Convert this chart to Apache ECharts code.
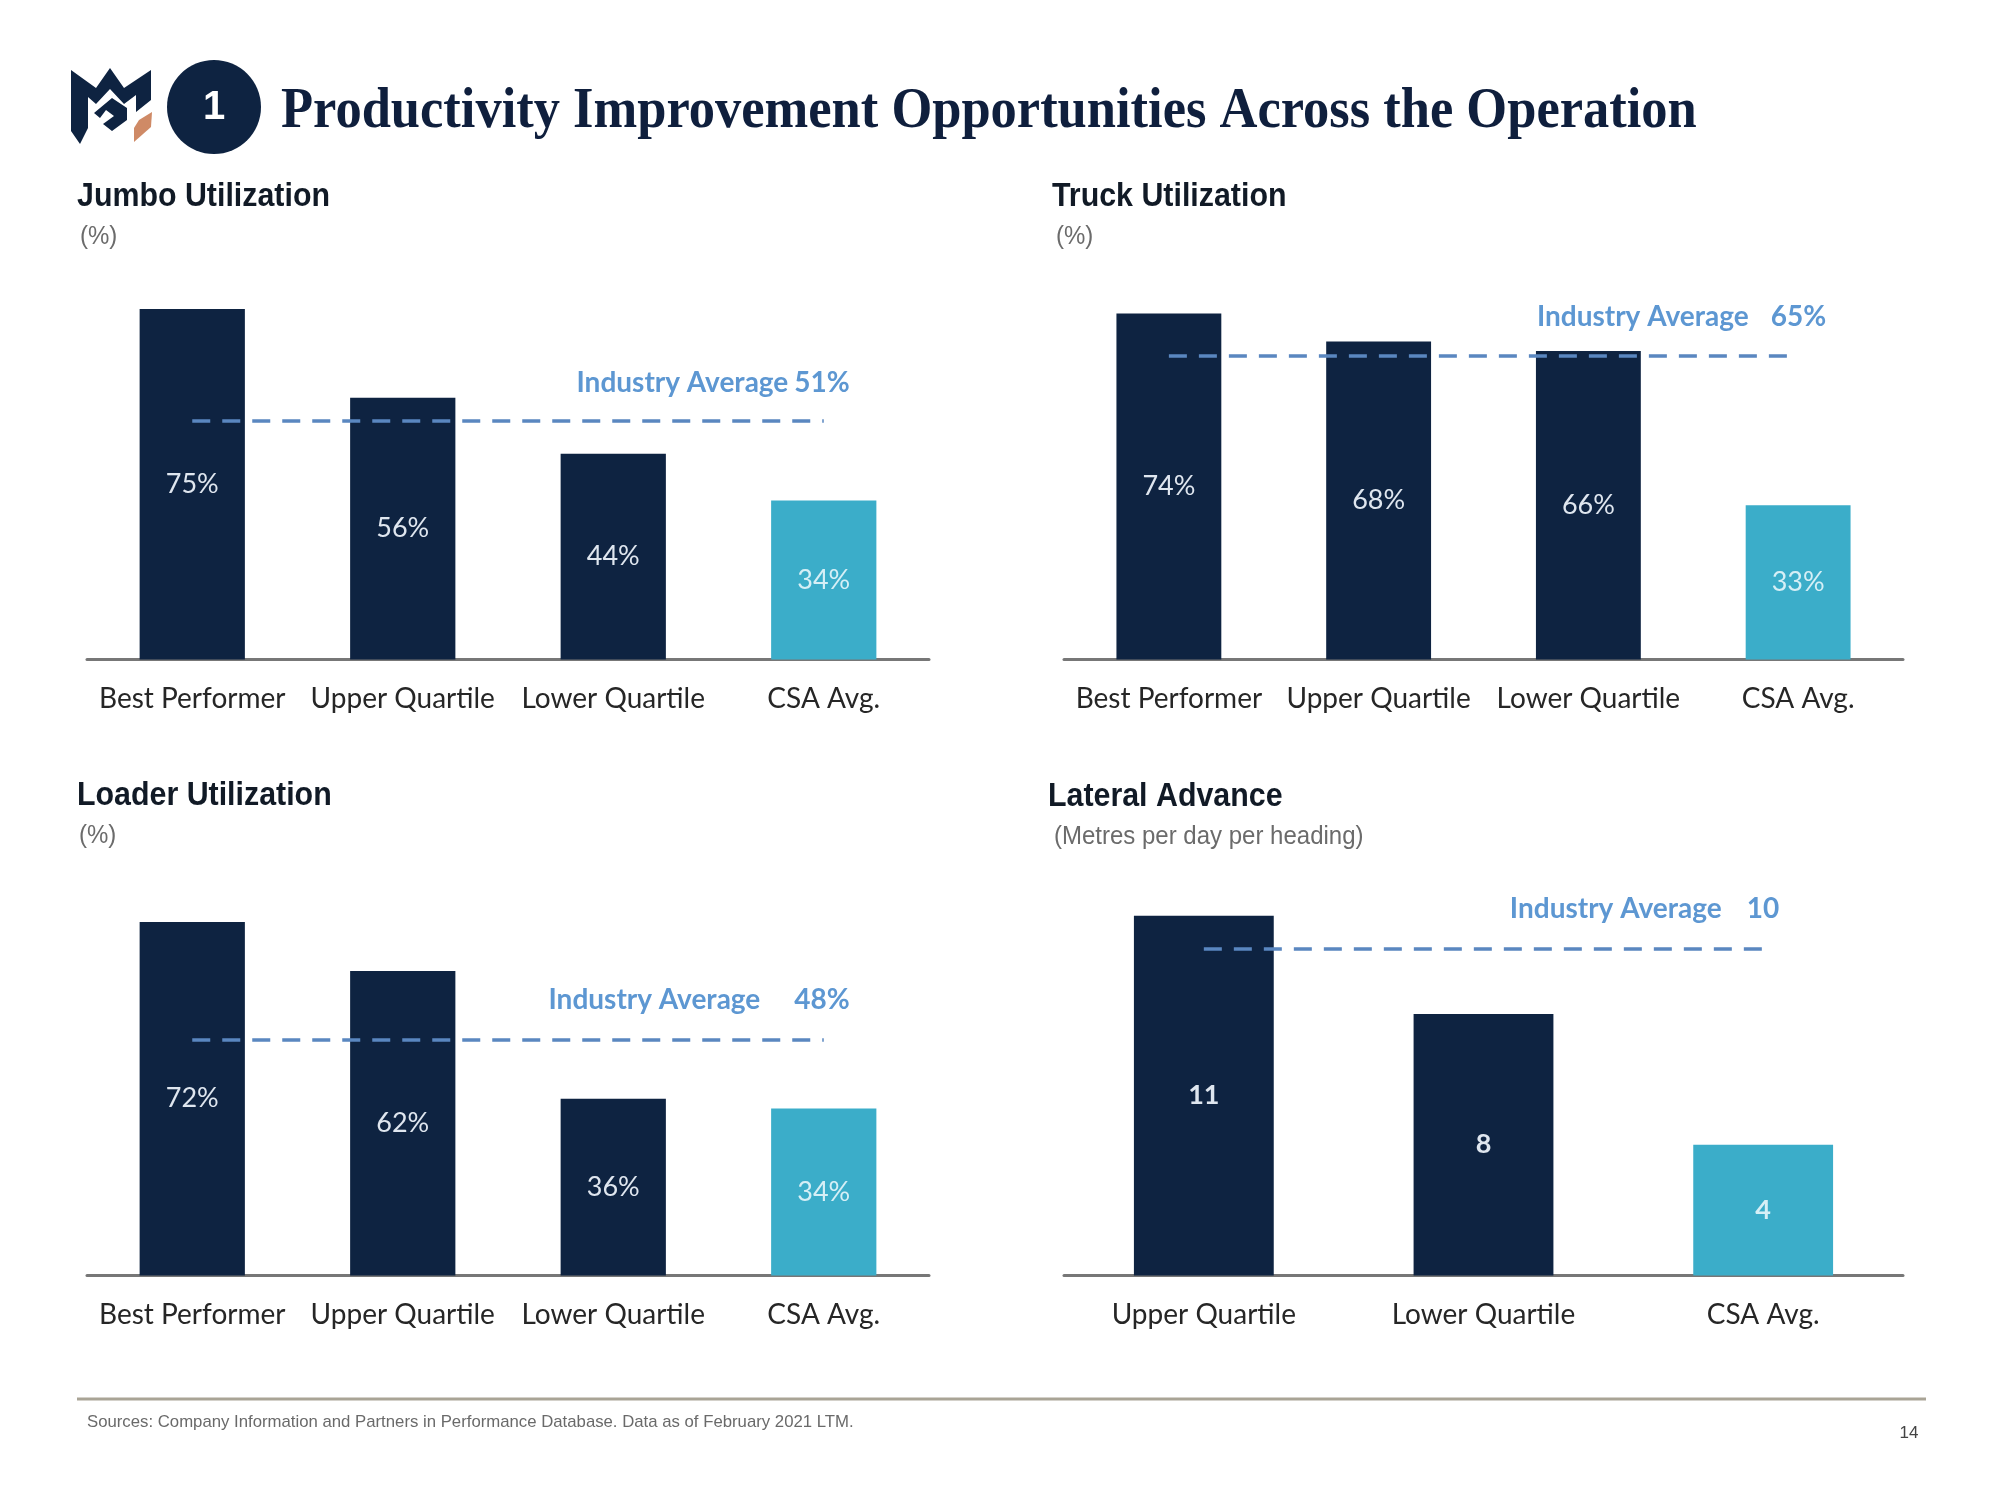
<!DOCTYPE html>
<html><head><meta charset="utf-8">
<script src="https://cdn.jsdelivr.net/npm/echarts@6/dist/echarts.min.js"></script>
<style>html,body{margin:0;padding:0;background:#fff}#c{width:2000px;height:1500px}</style>
</head><body><div id="c"></div>
<script>
// ---- data ----
const jumboCategories = ['Best Performer', 'Upper Quartile', 'Lower Quartile', 'CSA Avg.'];
const jumboValues = [75, 56, 44, 34];
const jumboIndustryAvg = 51;

const truckCategories = ['Best Performer', 'Upper Quartile', 'Lower Quartile', 'CSA Avg.'];
const truckValues = [74, 68, 66, 33];
const truckIndustryAvg = 65;

const loaderCategories = ['Best Performer', 'Upper Quartile', 'Lower Quartile', 'CSA Avg.'];
const loaderValues = [72, 62, 36, 34];
const loaderIndustryAvg = 48;

const lateralCategories = ['Upper Quartile', 'Lower Quartile', 'CSA Avg.'];
const lateralValues = [11, 8, 4];
const lateralIndustryAvg = 10;

// ---- styling ----
const NAVY = '#0e2341';
const TEAL = '#3badc9';
const DASH = '#5a87c0';
const AVG_TXT = '#5d97d2';
const FONT = 'Lato';

const panels = [
  { cats: jumboCategories, vals: jumboValues, avg: jumboIndustryAvg, unit: '%', max: 100,
    grid: { left: 87, top: 192, width: 842, height: 467.5 }, gap: 6, labelDx: 31, labelDy: -19, bold: false },
  { cats: truckCategories, vals: truckValues, avg: truckIndustryAvg, unit: '%', max: 100,
    grid: { left: 1064, top: 192, width: 839, height: 467.5 }, gap: 22, labelDx: 33, labelDy: -20, bold: false },
  { cats: loaderCategories, vals: loaderValues, avg: loaderIndustryAvg, unit: '%', max: 100,
    grid: { left: 87, top: 784.5, width: 842, height: 491 }, gap: 34, labelDx: 31, labelDy: -21, bold: false },
  { cats: lateralCategories, vals: lateralValues, avg: lateralIndustryAvg, unit: '', max: 15,
    grid: { left: 1064, top: 785, width: 839, height: 490.5 }, gap: 25, labelDx: 21, labelDy: -21, bold: true }
];

const grids = [], xAxes = [], yAxes = [], series = [];
panels.forEach((p, i) => {
  grids.push(Object.assign({ containLabel: false }, p.grid));
  xAxes.push({
    type: 'category', gridIndex: i, data: p.cats,
    axisLine: { lineStyle: { color: '#777777', width: 3 } },
    axisTick: { show: false },
    axisLabel: { fontFamily: FONT, fontSize: 28, color: '#262626', margin: 25, interval: 0 }
  });
  yAxes.push({ type: 'value', gridIndex: i, min: 0, max: p.max, show: false, splitLine: { show: false } });
  const last = p.cats.length - 1;
  series.push({
    type: 'bar', xAxisIndex: i, yAxisIndex: i, barWidth: '50%',
    data: p.vals.map((v, k) => ({
      value: v,
      itemStyle: { color: k === last ? TEAL : NAVY },
      label: { color: k === last ? '#d6eff6' : '#dfe6ef' }
    })),
    label: {
      show: true, position: 'inside', fontFamily: FONT, fontSize: 27,
      fontWeight: p.bold ? 'bold' : 'normal',
      formatter: (d) => d.value + p.unit
    },
    silent: true,
    markLine: {
      silent: true, symbol: 'none', animation: false,
      lineStyle: { type: [18, 12], width: 3.5, color: DASH },
      label: {
        show: true, position: 'insideEndTop', distance: 5, offset: [p.labelDx, p.labelDy],
        formatter: () => '{a|Industry Average}{b|' + p.avg + p.unit + '}',
        rich: {
          a: { fontFamily: FONT, fontSize: 28, fontWeight: 'bold', color: AVG_TXT },
          b: { fontFamily: FONT, fontSize: 28, fontWeight: 'bold', color: AVG_TXT, padding: [0, 0, 0, p.gap] }
        }
      },
      data: [[{ coord: [p.cats[0], p.avg] }, { coord: [p.cats[last], p.avg] }]]
    }
  });
});

const panelTitle = (x, y, t) => ({
  type: 'text', x: x, y: y, scaleX: 0.92,
  style: { text: t, fontFamily: 'Liberation Sans', fontWeight: 'bold', fontSize: 33, fill: '#111a26', verticalAlign: 'middle' }
});
const panelSub = (x, y, t) => ({
  type: 'text', x: x, y: y, scaleX: 0.96,
  style: { text: t, fontFamily: 'Liberation Sans', fontSize: 25, fill: '#6b6b6b', verticalAlign: 'middle' }
});

const graphic = [
  // logo
  { type: 'polygon', shape: { points: [[71,70],[96,88],[110,68],[124,88],[151,70],[151,100],[136,112],[136,95],[124,104],[110,89],[96,104],[88,97],[88,128],[80,144],[71,131]] }, style: { fill: NAVY } },
  { type: 'polygon', shape: { points: [[94,113],[112,98],[127,108],[127,120],[112,131],[103,124],[114,116],[106,110],[100,118]] }, style: { fill: NAVY } },
  { type: 'polygon', shape: { points: [[139,120],[152,112],[151,127],[134,142],[134,128]] }, style: { fill: '#cf8a66' } },
  // number badge
  { type: 'circle', shape: { cx: 214, cy: 107, r: 47 }, style: { fill: '#0e2341' } },
  { type: 'text', x: 214, y: 108, style: { text: '1', fontFamily: 'Liberation Sans', fontWeight: 'bold', fontSize: 40, fill: '#ffffff', align: 'center', verticalAlign: 'middle' } },
  // main title
  { type: 'text', x: 281, y: 112, scaleX: 0.905,
    style: { text: 'Productivity Improvement Opportunities Across the Operation', fontFamily: 'Liberation Serif', fontWeight: 'bold', fontSize: 58, fill: '#0f1f3d', verticalAlign: 'middle' } },
  // panel titles
  panelTitle(77, 197, 'Jumbo Utilization'),
  panelSub(80, 237, '(%)'),
  panelTitle(1052, 197, 'Truck Utilization'),
  panelSub(1056, 237, '(%)'),
  panelTitle(77, 796, 'Loader Utilization'),
  panelSub(79, 836, '(%)'),
  panelTitle(1048, 797, 'Lateral Advance'),
  panelSub(1054, 837, '(Metres per day per heading)'),
  // footer
  { type: 'line', shape: { x1: 77, y1: 1399, x2: 1926, y2: 1399 }, style: { stroke: '#a9a496', lineWidth: 3 } },
  { type: 'text', x: 87, y: 1422, scaleX: 0.985,
    style: { text: 'Sources: Company Information and Partners in Performance Database. Data as of February 2021 LTM.', fontFamily: 'Liberation Sans', fontSize: 17, fill: '#6a6a6a', verticalAlign: 'middle' } },
  { type: 'text', x: 1909, y: 1433, style: { text: '14', fontFamily: 'Liberation Sans', fontSize: 17, fill: '#444444', align: 'center', verticalAlign: 'middle' } }
];

const chart = echarts.init(document.getElementById('c'), null, { renderer: 'canvas' });
chart.setOption({
  backgroundColor: '#ffffff',
  animation: false,
  grid: grids, xAxis: xAxes, yAxis: yAxes, series: series,
  graphic: graphic
});
</script>
</body></html>
